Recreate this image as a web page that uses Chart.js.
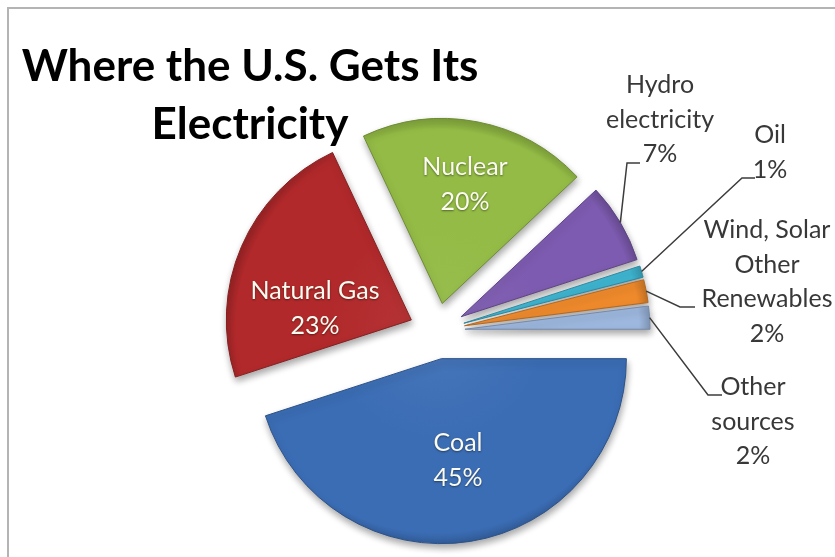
<!DOCTYPE html>
<html lang="en">
<head>
  <meta charset="UTF-8">
  <title>Where the U.S. Gets Its Electricity</title>
  <script src="https://cdn.jsdelivr.net/npm/chart.js"></script>
  <style>
    html, body { margin: 0; padding: 0; background: #fff; }
    #wrap { width: 835px; height: 557px; }
  </style>
</head>
<body>
  <div id="wrap"><canvas id="sourcesChart" width="835" height="557"></canvas></div>

  <script>
    // Share of U.S. electricity by source, percent
    const sources = ['Coal', 'Natural Gas', 'Nuclear', 'Hydro electricity', 'Oil', 'Wind, Solar Other Renewables', 'Other sources'];
    const shares = [45, 23, 20, 7, 1, 2, 2];
    const sliceColors = ['#3b6db5', '#b1292b', '#93bb45', '#7d5bb0', '#3fb6d2', '#ef8a2c', '#9db7de'];

    // how each source name is broken over lines in its label
    const nameLines = [
      ['Coal'],
      ['Natural Gas'],
      ['Nuclear'],
      ['Hydro', 'electricity'],
      ['Oil'],
      ['Wind, Solar', 'Other', 'Renewables'],
      ['Other', 'sources']
    ];

    const titleLines = ['Where the U.S. Gets Its', 'Electricity'];

    const PIE_RADIUS = 185;
    const EXPLODE = 28;
    const LINE_H = 34.5;
    const FONT = 'Lato, "Open Sans", sans-serif';

    // label placement: x = text centre, y = centre of first line;
    // outside labels also get an elbow and end point for the leader line
    const labelPos = [
      { x: 458, y: 443, inside: true },
      { x: 315, y: 291, inside: true },
      { x: 465, y: 167, inside: true },
      { x: 660, y: 85, elbow: [627, 163], end: [640, 163] },
      { x: 770, y: 135, elbow: [742, 178], end: [755, 178] },
      { x: 767, y: 230, elbow: [680, 307], end: [695, 307] },
      { x: 753, y: 387, elbow: [708, 395], end: [722, 395] }
    ];

    function mix(hex, target, amt) {
      const n = parseInt(hex.slice(1), 16);
      const c = [(n >> 16) & 255, (n >> 8) & 255, n & 255];
      const out = c.map(v => Math.round(v + (target - v) * amt));
      return `rgb(${out[0]}, ${out[1]}, ${out[2]})`;
    }

    // push every slice out along its bisector
    const explodePlugin = {
      id: 'explode',
      afterDatasetUpdate(chart, args) {
        args.meta.data.forEach(arc => {
          const mid = (arc.startAngle + arc.endAngle) / 2;
          arc.x += Math.cos(mid) * EXPLODE;
          arc.y += Math.sin(mid) * EXPLODE;
        });
      }
    };

    // soft drop shadow under the slices
    const shadowPlugin = {
      id: 'sliceShadow',
      beforeDatasetsDraw(chart) {
        const ctx = chart.ctx;
        ctx.save();
        ctx.shadowColor = 'rgba(0, 0, 0, 0.35)';
        ctx.shadowBlur = 7;
        ctx.shadowOffsetX = 1;
        ctx.shadowOffsetY = 4;
      },
      afterDatasetsDraw(chart) {
        chart.ctx.restore();
      }
    };

    // frame, title, slice labels and leader lines
    const decorPlugin = {
      id: 'decor',
      afterDraw(chart) {
        const ctx = chart.ctx;
        const arcs = chart.getDatasetMeta(0).data;
        ctx.save();

        // chart frame (top and left edges show)
        ctx.strokeStyle = '#b4b4b4';
        ctx.lineWidth = 2;
        ctx.beginPath();
        ctx.moveTo(8, chart.height);
        ctx.lineTo(8, 8);
        ctx.lineTo(chart.width, 8);
        ctx.stroke();

        // title
        ctx.fillStyle = '#000';
        ctx.textAlign = 'center';
        ctx.textBaseline = 'alphabetic';
        ctx.font = 'bold 44px ' + FONT;
        ctx.fillText(titleLines[0], 250, 81);
        ctx.fillText(titleLines[1], 250, 139);

        ctx.font = '25px ' + FONT;
        ctx.textBaseline = 'middle';
        labelPos.forEach((pos, i) => {
          const lines = nameLines[i].concat([shares[i] + '%']);
          if (pos.inside) {
            ctx.fillStyle = '#fbfbf0';
            ctx.shadowColor = 'rgba(0, 0, 0, 0.45)';
            ctx.shadowBlur = 2;
            ctx.shadowOffsetY = 1;
          } else {
            ctx.fillStyle = '#383838';
            ctx.shadowColor = 'transparent';
            // leader from the slice's outer edge at its bisector
            const arc = arcs[i];
            const mid = (arc.startAngle + arc.endAngle) / 2;
            const sx = arc.x + Math.cos(mid) * arc.outerRadius;
            const sy = arc.y + Math.sin(mid) * arc.outerRadius;
            ctx.strokeStyle = '#3c3c3c';
            ctx.lineWidth = 1.5;
            ctx.beginPath();
            ctx.moveTo(sx, sy);
            ctx.lineTo(pos.elbow[0], pos.elbow[1]);
            ctx.lineTo(pos.end[0], pos.end[1]);
            ctx.stroke();
          }
          lines.forEach((t, k) => ctx.fillText(t, pos.x, pos.y + k * LINE_H));
        });
        ctx.restore();
      }
    };

    new Chart(document.getElementById('sourcesChart'), {
      type: 'pie',
      data: {
        labels: sources,
        datasets: [{
          data: shares,
          radius: PIE_RADIUS,
          backgroundColor: c => {
            const base = sliceColors[c.dataIndex];
            const area = c.chart.chartArea;
            if (!area) return base;
            const cx = (area.left + area.right) / 2;
            const cy = (area.top + area.bottom) / 2;
            const g = c.chart.ctx.createRadialGradient(cx, cy, 0, cx, cy, PIE_RADIUS + EXPLODE + 4);
            g.addColorStop(0, mix(base, 255, 0.06));
            g.addColorStop(0.5, base);
            g.addColorStop(0.93, base);
            g.addColorStop(1, mix(base, 0, 0.22));
            return g;
          },
          borderColor: sliceColors.map(c => mix(c, 0, 0.25)),
          borderWidth: 1
        }]
      },
      options: {
        responsive: false,
        animation: false,
        events: [],
        rotation: 90,
        layout: { padding: { left: 39, top: 105, right: 0, bottom: 0 } },
        plugins: {
          legend: { display: false },
          tooltip: { enabled: false },
          title: { display: false }
        }
      },
      plugins: [explodePlugin, shadowPlugin, decorPlugin]
    });
  </script>
</body>
</html>
